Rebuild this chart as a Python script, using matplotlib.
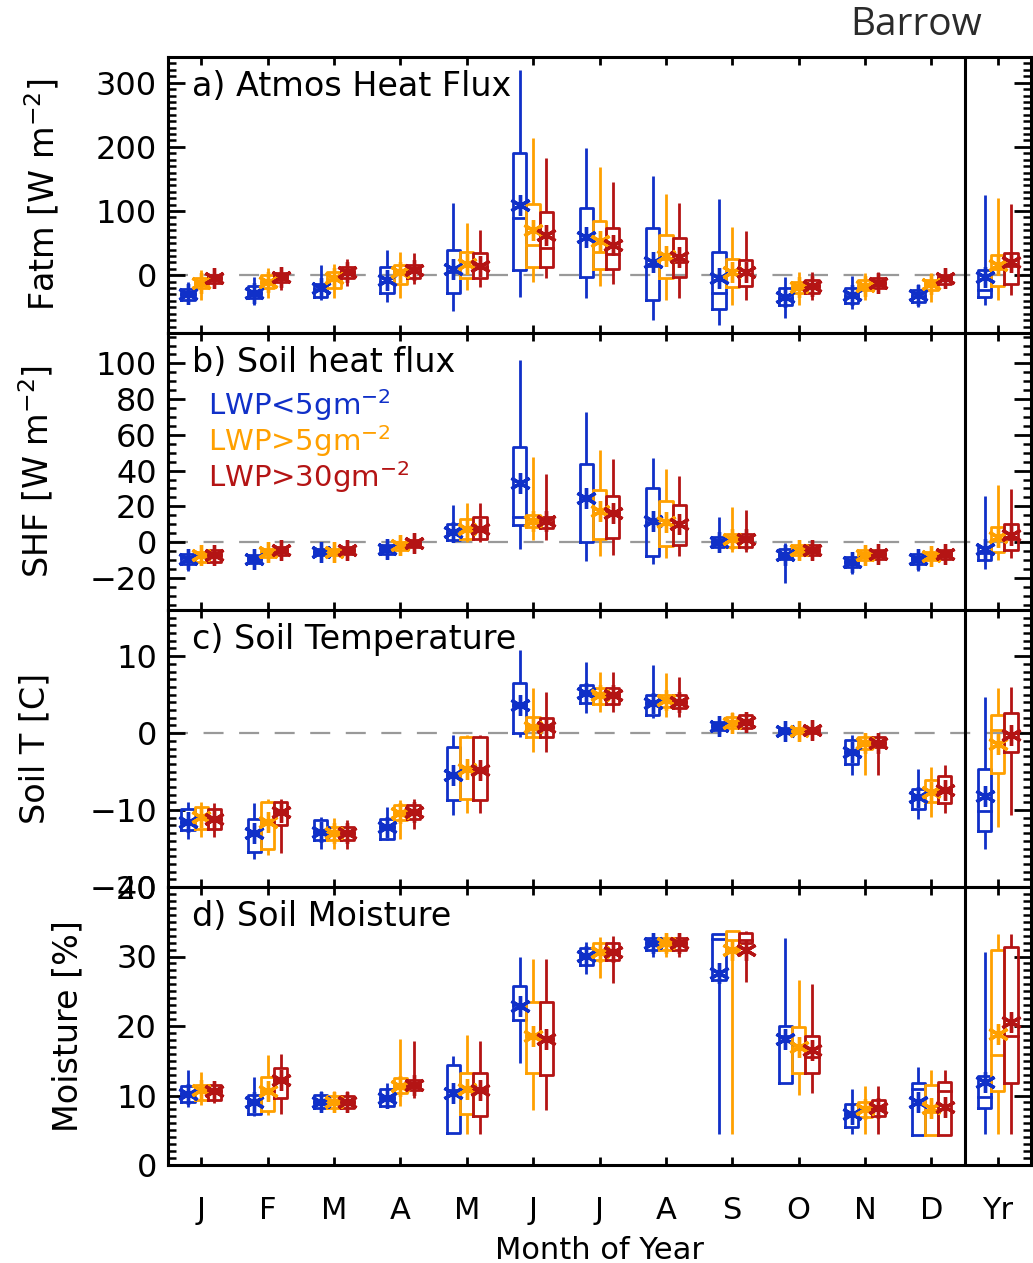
import matplotlib
matplotlib.use("Agg")
import matplotlib.pyplot as plt
from matplotlib.ticker import MultipleLocator, FixedLocator
import numpy as np

# x categories
months = ["J", "F", "M", "A", "M", "J", "J", "A", "S", "O", "N", "D", "Yr"]
series_names = [r"LWP<5gm$^{-2}$", r"LWP>5gm$^{-2}$", r"LWP>30gm$^{-2}$"]
series_colors = ["#1030c8", "#ffa000", "#b41414"]

# each row: whisker low, q1, median, q3, whisker high, mean
fatm_lo = [(-45, -38, -30, -22, -10, -30), (-47, -36, -28, -17, -3, -28), (-39, -34, -22, -13, 16, -20),
           (-42, -28, -10, 13, 39, -7), (-55, -28, 5, 39, 112, 10), (-34, 8, 89, 191, 320, 109),
           (-36, -3, 62, 105, 198, 60), (-70, -39, 15, 73, 155, 20), (-78, -52, -27, 36, 118, -5),
           (-67, -47, -36, -20, -3, -34), (-52, -44, -33, -20, -1, -31), (-50, -41, -32, -23, -13, -31),
           (-47, -34, -23, 8, 125, -3)]
fatm_mid = [(-38, -20, -12, -5, 8, -12), (-36, -20, -11, 0, 12, -11), (-36, -20, -6, 5, 18, -5),
            (-36, -13, 3, 16, 36, 5), (-23, -5, 15, 36, 81, 18), (-11, 13, 47, 111, 214, 70),
            (-17, 9, 36, 84, 168, 54), (-39, -5, 25, 62, 127, 30), (-47, -19, 2, 26, 75, 5),
            (-47, -28, -19, -11, 5, -19), (-39, -23, -16, -8, 3, -16), (-41, -23, -14, -8, 3, -13),
            (-38, -16, 10, 31, 120, 16)]
fatm_hi = [(-20, -12, -5, 0, 8, -5), (-23, -10, -3, 3, 13, -3), (-16, -5, 5, 13, 26, 5),
           (-13, -5, 7, 16, 34, 8), (-18, -5, 13, 34, 70, 15), (-5, 13, 42, 99, 182, 63),
           (-13, 9, 33, 74, 145, 47), (-36, -3, 20, 58, 113, 29), (-39, -17, 2, 23, 69, 5),
           (-39, -28, -16, -8, 5, -16), (-28, -20, -12, -5, 5, -12), (-20, -13, -5, 0, 9, -5),
           (-31, -13, 15, 34, 111, 21)]

shf_lo = [(-16, -12, -9, -6.5, -4.7, -9.3), (-15, -11.5, -9.3, -7.4, -5.6, -9.3), (-9.3, -7.4, -5.6, -3.7, -1.9, -5.6),
          (-8.4, -6.5, -3.7, -1.9, 0, -3.7), (0, 1, 5, 10, 21, 5.6), (-3.7, 9.3, 14, 53, 102, 33),
          (-10.6, 0, 24, 43.8, 72.6, 24.6), (-12, -7.8, 11, 30, 47, 12), (-3.7, -2.8, 0, 2.8, 14, 0),
          (-23, -9.3, -7.4, -3.7, -0.6, -7.4), (-17.7, -14, -11, -8.4, -6.5, -11), (-16, -12, -9.3, -6.5, -4.7, -9.3),
          (-15, -10, -6, -3, 26, -3.7)]
shf_mid = [(-13, -11, -7.4, -5.6, -3.7, -7.4), (-9.3, -8.4, -5.6, -3.7, -1.9, -5.6), (-9.3, -7.4, -5.6, -3.7, -1.9, -5.6),
           (-5.6, -4.7, -1.9, 0, 1.9, -1.9), (0, 2, 7.4, 13, 22, 7.4), (1, 8.4, 11, 15, 47.5, 12),
           (-8, 1.9, 16, 29, 51.6, 17.3), (-8.8, -2.2, 10, 23, 41, 11), (-5.6, -2.8, 1.9, 4.7, 19.5, 1.9),
           (-8.4, -7.4, -4.3, -1.9, 0, -4.3), (-12, -10, -7.4, -4.7, -3.7, -7.4), (-11.5, -10, -7.8, -5.6, -4.2, -7.8),
           (-10, -5.6, 1, 8.4, 31.7, 2.8)]
shf_hi = [(-12, -11, -7.4, -4.7, -3.7, -7.4), (-9.3, -7.4, -4.7, -2.8, -1, -4.7), (-8.4, -6.5, -4.7, -2.8, -1, -4.7),
          (-4.7, -2.8, -0.6, 0.9, 2.8, -0.6), (0, 2, 7.4, 14, 22, 7.4), (1, 8, 11, 14, 38, 12),
          (-7, 2.4, 16, 26, 46.6, 16.2), (-8, -1.5, 9, 21, 37, 10), (-5.6, -2.8, 1.9, 4.7, 18, 1.9),
          (-9.3, -7.4, -4.3, -1.9, 0, -4.3), (-10, -9.3, -6.5, -4.2, -2.8, -6.5), (-10, -9.3, -6.5, -4.2, -2.8, -6.5),
          (-8.8, -4.7, 2, 9.9, 29.8, 3.7)]

soilt_lo = [(-13.7, -12.6, -11.5, -9.8, -8.9, -11.5), (-16.3, -15.4, -13, -11.2, -9.1, -13), (-15, -13.9, -12.8, -11.3, -10.9, -12.8),
            (-13.9, -13.7, -12.2, -11.1, -9.6, -12.2), (-10.7, -8.7, -5.5, -1.8, -0.3, -5.5), (-0.5, 0, 3.6, 6.5, 10.8, 3.6),
            (2.6, 3.9, 5.2, 6.2, 9.3, 5.2), (1.9, 2.3, 3.9, 4.9, 8.8, 3.9), (0, 0.4, 0.9, 1.5, 2.1, 0.9),
            (-0.5, 0, 0.3, 0.6, 1, 0.3), (-5.5, -4.0, -2.4, -0.9, -0.3, -2.4), (-11.1, -9.8, -8.3, -7.2, -4.6, -8.3),
            (-15, -12.7, -10.1, -4.6, 4.7, -8.2)]
soilt_mid = [(-13.5, -12.4, -10.9, -9.6, -8.9, -10.9), (-15.9, -15, -11.5, -8.9, -8.5, -11.5), (-15, -13.9, -13, -12.2, -11, -13),
             (-13.7, -11.3, -10.4, -9.4, -8.7, -10.4), (-10.4, -8.6, -4.6, -0.5, -0.3, -4.6), (-2.4, -0.5, 0.8, 2.1, 5.8, 0.8),
             (2.8, 3.8, 4.9, 5.8, 8, 4.9), (2.1, 3.4, 4.3, 4.9, 7.8, 4.3), (0.4, 0.7, 1.3, 2.1, 2.8, 1.3),
             (-0.3, 0, 0.3, 0.6, 0.9, 0.3), (-5.5, -2, -1.3, -0.5, 0, -1.3), (-10.9, -8.9, -7.6, -6.1, -4.4, -7.6),
             (-12.2, -5.2, 0.4, 2.3, 5.9, -1.4)]
soilt_hi = [(-13.5, -12.4, -11.1, -9.8, -9.1, -11.1), (-15.6, -12, -10.2, -8.9, -8.5, -10.2), (-15, -13.9, -13, -12.2, -11.3, -13),
            (-12.4, -11.1, -10.2, -9.4, -8.5, -10.2), (-10.4, -8.7, -4.8, -0.5, -0.3, -4.8), (-2.4, -0.5, 0.8, 1.9, 5.4, 0.8),
            (2.8, 3.8, 5.0, 5.8, 8, 5.0), (2.1, 3.2, 4.1, 5.0, 7.3, 4.1), (0.4, 0.7, 1.5, 2.3, 2.8, 1.5),
            (-0.3, 0, 0.4, 0.7, 1, 0.4), (-5.5, -1.8, -1.3, -0.5, -0.2, -1.3), (-10.4, -9.1, -7.4, -5.6, -4.2, -7.4),
            (-10.7, -2.5, 0, 2.6, 6, -0.3)]

moist_lo = [(8.4, 9.1, 10.2, 11.3, 13.7, 10.2), (7.0, 7.4, 9.0, 10.1, 12.7, 9.0), (7.9, 8.2, 9.1, 10.1, 10.6, 9.1),
            (8.4, 8.5, 9.6, 10.9, 11.8, 9.6), (4.6, 4.6, 10.8, 14.4, 15.7, 10.3), (14.7, 20.9, 23, 25.8, 30, 22.9),
            (27.5, 28.8, 30.1, 31.2, 32.1, 30.1), (29.9, 30.9, 32, 32.6, 32.9, 32.0), (4.5, 26.6, 32.5, 33.2, 33.2, 27.6),
            (11.8, 11.8, 18.5, 20, 32.6, 18.2), (4.5, 5.4, 7.4, 8.8, 11, 7.4), (4.3, 4.3, 11, 11.8, 14.1, 9.1),
            (4.5, 8.2, 9.8, 12.8, 30.6, 12.0)]
moist_mid = [(8.6, 9.4, 10.8, 11.5, 13.4, 10.8), (7.2, 7.7, 10.7, 12.7, 15.8, 10.7), (7.9, 8.2, 9.1, 9.9, 10.6, 9.1),
             (8.5, 10.3, 11.3, 12.5, 18.1, 11.3), (4.5, 7.3, 11, 13.3, 18.7, 11.0), (7.9, 13.3, 18.6, 23.5, 29.7, 18.6),
             (26.9, 29.5, 30.7, 31.9, 32.8, 30.7), (29.9, 30.9, 32, 32.6, 32.8, 32.0), (4.5, 30.9, 32.4, 33.6, 33.6, 30.9),
             (10.1, 13.3, 16.8, 19.8, 26.6, 17.0), (4.5, 6.9, 8.0, 9.1, 11.3, 8.0), (4.3, 4.3, 7.6, 11.5, 13.6, 8.2),
             (4.5, 10.6, 15.8, 30.9, 33.2, 18.9)]
moist_hi = [(8.9, 9.4, 10.6, 11.5, 11.7, 10.6), (7.4, 9.6, 12.2, 13.9, 16, 12.2), (7.9, 8.2, 9.0, 9.9, 10.6, 9.0),
            (9.6, 10.8, 11.5, 12.2, 17.9, 11.5), (4.5, 7.0, 10.8, 13.2, 17.9, 10.8), (7.9, 13, 18.2, 23.4, 29.7, 18.2),
            (26.2, 29.5, 30.7, 31.9, 32.9, 30.7), (29.9, 30.9, 32, 32.6, 32.9, 32.0), (26.4, 31.9, 32.4, 33.4, 33.6, 30.9),
            (10.3, 13.2, 15.5, 18.6, 26.1, 16.5), (4.5, 7.0, 8.2, 9.4, 11.3, 8.2), (4.3, 4.3, 10.7, 12, 13.6, 8.4),
            (4.5, 11.8, 18.6, 31.4, 33.3, 20.6)]

panels = [
    ("a) Atmos Heat Flux", r"Fatm [W m$^{-2}$]", [fatm_lo, fatm_mid, fatm_hi], (-90, 340), 100, 10, True),
    ("b) Soil heat flux", r"SHF [W m$^{-2}$]", [shf_lo, shf_mid, shf_hi], (-38, 117), 20, 5, True),
    ("c) Soil Temperature", "Soil T [C]", [soilt_lo, soilt_mid, soilt_hi], (-20, 16), 10, 1, True),
    ("d) Soil Moisture", "Moisture [%]", [moist_lo, moist_mid, moist_hi], (0, 40), 10, 1, False),
]

W, H = 1033, 1263
fig = plt.figure(figsize=(W / 100, H / 100), dpi=100)
plt.rcParams["font.family"] = ["DejaVu Sans"]

left_px, right_px = 168, 1031
edges_px = [57, 333, 610, 887, 1165]
ylabel_x = [42, 36, 35, 68]

offsets = [-0.2, 0.0, 0.2]
half_w = 0.1
xpos = np.arange(1, len(months) + 1)

for i, (title, ylab, series, ylim, major, minor, zero_line) in enumerate(panels):
    top, bot = edges_px[i], edges_px[i + 1]
    ax = fig.add_axes([left_px / W, 1 - bot / H, (right_px - left_px) / W, (bot - top) / H])
    ax.set_xlim(0.5, 13.5)
    ax.set_ylim(*ylim)

    if zero_line:
        ax.axhline(0, color="#999999", lw=1.6, dashes=(9, 7), zorder=1)
    ax.axvline(12.5, color="black", lw=2.2, zorder=5)

    for rows, off, col in zip(series, offsets, series_colors):
        stats = np.array(rows, dtype=float)
        for x, (lo, q1, med, q3, hi, mean) in zip(xpos + off, stats):
            ax.plot([x, x], [lo, q1], color=col, lw=2.0, solid_capstyle="butt", zorder=3)
            ax.plot([x, x], [q3, hi], color=col, lw=2.0, solid_capstyle="butt", zorder=3)
            ax.plot([x - half_w, x + half_w, x + half_w, x - half_w, x - half_w],
                    [q1, q1, q3, q3, q1], color=col, lw=2.0, solid_joinstyle="round", zorder=3)
            ax.plot([x - half_w, x + half_w], [med, med], color=col, lw=2.0, zorder=3)
        ax.plot(xpos + off, stats[:, 5], linestyle="none", marker=(6, 2, 0),
                markersize=15, markeredgewidth=2.4, color=col, zorder=4)

    ax.yaxis.set_major_locator(MultipleLocator(major))
    ax.yaxis.set_minor_locator(MultipleLocator(minor))
    ax.xaxis.set_major_locator(FixedLocator(xpos))
    ax.tick_params(axis="y", which="major", direction="in", length=12, width=2.0,
                   left=True, right=True, labelsize=23, pad=8)
    ax.tick_params(axis="y", which="minor", direction="in", length=6, width=1.8,
                   left=True, right=True)
    ax.tick_params(axis="x", which="major", direction="in", length=6, width=2.0,
                   top=True, bottom=True, labelsize=22, pad=22)
    if i < 3:
        ax.tick_params(axis="x", labelbottom=False)
    else:
        ax.set_xticklabels(months)
        ax.set_xlabel("Month of Year", fontsize=22, labelpad=8)
    for sp in ax.spines.values():
        sp.set_linewidth(2.2)

    ax.text(0.028, 1 - 29 / (bot - top), title, transform=ax.transAxes,
            fontsize=24, va="center", ha="left")
    fig.text(ylabel_x[i] / W, 1 - (top + bot) / 2 / H, ylab, rotation=90,
             fontsize=24, ha="center", va="center")

    if i == 1:
        for name, col, ypx in zip(series_names, series_colors, [405, 441, 477]):
            ax.text(0.046, 1 - (ypx - top) / (bot - top), name, transform=ax.transAxes,
                    color=col, fontsize=21, va="center", ha="left")

fig.text(916 / W, 1 - 25 / H, "Barrow", fontsize=28, family=["Open Sans", "DejaVu Sans"],
         color="#2b2b2b", ha="center", va="center")

fig.savefig("out.png", dpi=100)
